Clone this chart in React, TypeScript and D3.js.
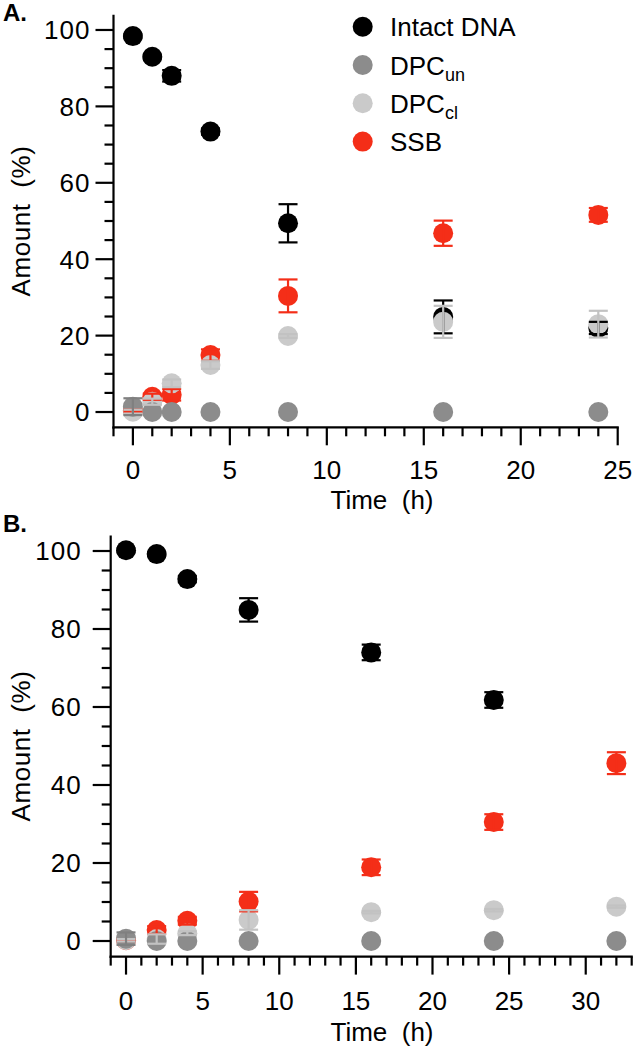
import React from 'react';
import * as d3 from 'd3';

// ---- data ----
const TIME_A = [0, 1, 2, 4, 8, 16, 24];
const INTACT_A = [98.4, 93.0, 88.0, 73.4, 49.4, 24.9, 22.0];
const INTACT_A_ERR = [0.5, 0.5, 1.5, 0.8, 5.0, 4.3, 1.6];
const DPCUN_A = [1.4, 0, 0, 0, 0, 0, 0];
const DPCUN_A_ERR = [2.2, 0, 0, 0, 0, 0, 0];
const DPCCL_A = [0.1, 2.7, 7.5, 12.3, 19.9, 23.6, 23.0];
const DPCCL_A_ERR = [0.5, 0.8, 1.0, 1.0, 0.5, 4.2, 3.5];
const SSB_A = [0.3, 4.0, 4.5, 14.9, 30.4, 46.8, 51.6];
const SSB_A_ERR = [0.3, 0.8, 1.5, 1.5, 4.3, 3.3, 1.8];

const TIME_B = [0, 2, 4, 8, 16, 24, 32];
const INTACT_B = [100.2, 99.2, 92.8, 84.9, 74.0, 61.8, null];
const INTACT_B_ERR = [0.5, 0.5, 0.8, 3.0, 2.0, 2.0, 0];
const DPCUN_B = [0.6, 0, 0, 0, 0, 0, 0];
const DPCUN_B_ERR = [1.6, 0, 0, 0, 0, 0, 0];
const DPCCL_B = [0.2, 0.5, 2.0, 5.4, 7.4, 7.9, 8.8];
const DPCCL_B_ERR = [0.3, 1.2, 0.5, 2.5, 0.3, 0.3, 0.3];
const SSB_B = [0.2, 2.8, 5.2, 10.1, 18.9, 30.5, 45.6];
const SSB_B_ERR = [0.2, 1.0, 1.0, 2.5, 2.0, 2.0, 2.8];

const SERIES_NAMES = ['Intact DNA', 'DPC', 'DPC', 'SSB'];
const SERIES_SUBS = ['', 'un', 'cl', ''];
const COLORS = ['#000000', '#8c8c8c', '#cacaca', '#f42e18'];
const ERR_COLORS = ['#000000', '#808080', '#c2c2c2', '#f42e18'];

const Y_TICKS = [0, 20, 40, 60, 80, 100];
const FONT = '"Liberation Sans", Arial, sans-serif';

type Series = { values: (number | null)[]; errs: number[] };

function Panel({ label, labelY, times, series, xMax, xTicks, px, py, yLabGap, xLabOff, titleY }: {
  label: string; labelY: number; times: number[]; series: Series[];
  xMax: number; xTicks: number[];
  px: [number, number]; py: [number, number];
  yLabGap: number; xLabOff: number; titleY: number;
}) {
  const x = d3.scaleLinear().domain([-1, xMax]).range(px);
  const y = d3.scaleLinear().domain([-4, 104]).range(py);
  const x0 = px[0];
  const yb = py[0];
  const minorX = d3.range(-1, xMax + 0.01, 1).filter(v => v % 5 !== 0);
  const minorY = d3.range(0, 101, 5).filter(v => v % 20 !== 0);
  const order = [0, 3, 2, 1];
  return (
    <g>
      <text x={3} y={labelY} fontFamily={FONT} fontWeight="bold" fontSize={24}>{label}</text>
      {/* markers */}
      {order.map(si => (
        <g key={'m' + si}>
          {series[si].values.map((v, i) => v === null ? null : (
            <circle key={i} cx={x(times[i])} cy={y(v)} r={10} fill={COLORS[si]} />
          ))}
        </g>
      ))}
      {/* error bars on top of the markers */}
      {order.map(si => (
        <g key={'e' + si} stroke={ERR_COLORS[si]} strokeWidth={2.2}>
          {series[si].values.map((v, i) => {
            const e = series[si].errs[i];
            if (v === null || !e) return null;
            const cx = x(times[i]);
            const t = y(v + e), b = y(v - e);
            return (
              <g key={i}>
                <line x1={cx} x2={cx} y1={t} y2={b} />
                <line x1={cx - 9.5} x2={cx + 9.5} y1={t} y2={t} />
                <line x1={cx - 9.5} x2={cx + 9.5} y1={b} y2={b} />
              </g>
            );
          })}
        </g>
      ))}
      {/* axes */}
      <g stroke="#000" strokeWidth={2.2} fill="none">
        <line x1={x0} x2={x0} y1={py[1]} y2={yb + 1.1} />
        <line x1={x0 - 1.1} x2={px[1] + 1.1} y1={yb} y2={yb} />
        {xTicks.map(v => <line key={'xM' + v} x1={x(v)} x2={x(v)} y1={yb} y2={yb + 18} />)}
        {minorX.map(v => <line key={'xm' + v} x1={x(v)} x2={x(v)} y1={yb} y2={yb + 9} />)}
        {Y_TICKS.map(v => <line key={'yM' + v} x1={x0 - 18} x2={x0} y1={y(v)} y2={y(v)} />)}
        {minorY.map(v => <line key={'ym' + v} x1={x0 - 9} x2={x0} y1={y(v)} y2={y(v)} />)}
      </g>
      <g fontFamily={FONT} fontSize={26} fill="#000">
        {xTicks.map(v => (
          <text key={'xl' + v} x={x(v)} y={yb + xLabOff} textAnchor="middle">{v}</text>
        ))}
        {Y_TICKS.map(v => (
          <text key={'yl' + v} x={x0 - yLabGap} y={y(v)} dy="0.36em" textAnchor="end" letterSpacing={1}>{v}</text>
        ))}
        <text x={382} y={titleY} textAnchor="middle" style={{ whiteSpace: 'pre' }}>{'Time  (h)'}</text>
        <text transform={`translate(30,${(py[0] + py[1]) / 2}) rotate(-90)`} textAnchor="middle" letterSpacing={0.6} style={{ whiteSpace: 'pre' }}>{'Amount  (%)'}</text>
      </g>
    </g>
  );
}

function Legend() {
  return (
    <g fontFamily={FONT} fontSize={26}>
      {SERIES_NAMES.map((name, i) => {
        const cy = 26.7 + i * 38.3;
        return (
          <g key={i}>
            <circle cx={362.7} cy={cy} r={10} fill={COLORS[i]} />
            <text x={390} y={cy + 9.5}>
              {name}
              {SERIES_SUBS[i] && <tspan fontSize={18} dy={6}>{SERIES_SUBS[i]}</tspan>}
            </text>
          </g>
        );
      })}
    </g>
  );
}

export default function App() {
  const seriesA: Series[] = [
    { values: INTACT_A, errs: INTACT_A_ERR },
    { values: DPCUN_A, errs: DPCUN_A_ERR },
    { values: DPCCL_A, errs: DPCCL_A_ERR },
    { values: SSB_A, errs: SSB_A_ERR },
  ];
  const seriesB: Series[] = [
    { values: INTACT_B, errs: INTACT_B_ERR },
    { values: DPCUN_B, errs: DPCUN_B_ERR },
    { values: DPCCL_B, errs: DPCCL_B_ERR },
    { values: SSB_B, errs: SSB_B_ERR },
  ];
  return (
    <svg width={637} height={1050} style={{ position: 'absolute', left: 0, top: 0, background: '#fff' }}>
      <Panel label="A." labelY={21} times={TIME_A} series={seriesA}
        xMax={25} xTicks={[0, 5, 10, 15, 20, 25]}
        px={[113.5, 617.7]} py={[427.3, 14.7]}
        yLabGap={23} xLabOff={52} titleY={509} />
      <Legend />
      <Panel label="B." labelY={532} times={TIME_B} series={seriesB}
        xMax={33} xTicks={[0, 5, 10, 15, 20, 25, 30]}
        px={[110.7, 631.7]} py={[956.6, 535.4]}
        yLabGap={29} xLabOff={53} titleY={1041} />
    </svg>
  );
}
